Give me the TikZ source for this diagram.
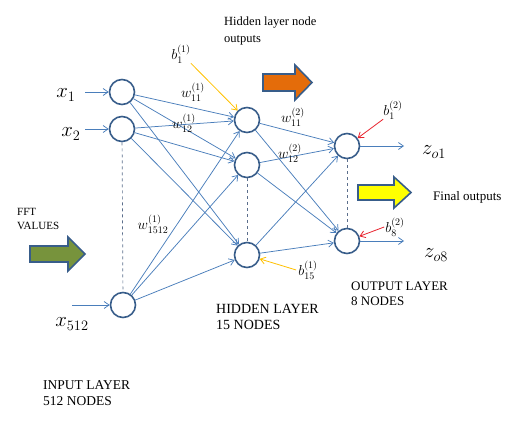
\documentclass[tikz,border=0pt]{standalone}
\usepackage{fontspec}
\setmainfont{Liberation Serif}
\usetikzlibrary{arrows.meta}

\definecolor{linkblue}{HTML}{4A7EBB}
\definecolor{ringblue}{HTML}{385D8A}
\definecolor{dashblue}{HTML}{5B6E8C}
\definecolor{biasyellow}{HTML}{FFC000}
\definecolor{biasred}{HTML}{E8232E}
\definecolor{blockorange}{HTML}{E46C0A}
\definecolor{blockyellow}{HTML}{FFFF00}
\definecolor{blockgreen}{HTML}{77933C}

\tikzset{
	>={Straight Barb[length=5pt,width=7pt]},
	neuron/.style={
		circle,
		draw=ringblue,
		line width=1.6pt,
		minimum size=25pt,
		inner sep=0pt
	},
	link/.style={
		->,
		color=linkblue,
		line width=0.75pt
	},
	skip/.style={
		color=dashblue,
		line width=0.7pt,
		dashed
	},
	bias/.style={
		->,
		line width=0.8pt
	},
	block/.style={
		draw=ringblue,
		line width=1.6pt,
		line join=miter
	},
	weightlabel/.style={
		font=\Large,
		inner sep=0pt
	},
	caption/.style={
		align=left,
		anchor=west,
		inner sep=0pt
	}
}

\begin{document}
\begin{tikzpicture}[x=1pt, y=-1pt]
	\useasboundingbox (0,0) rectangle (529,422);

	\node[neuron] (x1) at (122, 92) {};
	\node[neuron] (x2) at (122, 129) {};
	\node[neuron] (x512) at (123, 305) {};
	\node[neuron] (h1) at (247, 120) {};
	\node[neuron] (h2) at (247, 165) {};
	\node[neuron] (h15) at (247, 255) {};
	\node[neuron] (o1) at (347, 146) {};
	\node[neuron] (o8) at (347, 241) {};

	\node[font=\huge] (lx1) at (66, 95) {$x_{1}$};
	\node[font=\huge] (lx2) at (71, 134) {$x_{2}$};
	\node[font=\huge] (lx512) at (72, 324) {$x_{512}$};
	\node[font=\huge] (lz1) at (434, 152) {$z_{o1}$};
	\node[font=\huge] (lz8) at (436, 255) {$z_{o8}$};

	\coordinate (in1) at (85, 92);
	\coordinate (in2) at (85, 129);
	\coordinate (in512) at (72, 305);
	\coordinate (out1) at (404, 146);
	\coordinate (out8) at (404, 241);

	\draw[link] (in1) -- (x1);
	\draw[link] (in2) -- (x2);
	\draw[link] (in512) -- (x512);
	\draw[link] (o1) -- (out1);
	\draw[link] (o8) -- (out8);

	\draw[link] (x1) -- (h1);
	\draw[link] (x1) -- (h2);
	\draw[link] (x1) -- (h15);
	\draw[link] (x2) -- (h1);
	\draw[link] (x2) -- (h2);
	\draw[link] (x2) -- (h15);
	\draw[link] (x512) -- (h1);
	\draw[link] (x512) -- (h2);
	\draw[link] (x512) -- (h15);

	\draw[link] (h1) -- (o1);
	\draw[link] (h1) -- (o8);
	\draw[link] (h2) -- (o1);
	\draw[link] (h2) -- (o8);
	\draw[link] (h15) -- (o1);
	\draw[link] (h15) -- (o8);

	\draw[skip] (x2) -- (x512);
	\draw[skip] (h2) -- (h15);
	\draw[skip] (o1) -- (o8);

	\node[weightlabel] (w111) at (193, 92) {$w_{11}^{(1)}$};
	\node[weightlabel] (w121) at (184, 123) {$w_{12}^{(1)}$};
	\node[weightlabel] (w15121) at (153, 224) {$w_{1512}^{(1)}$};
	\node[weightlabel] (w112) at (293, 117) {$w_{11}^{(2)}$};
	\node[weightlabel] (w122) at (290, 153) {$w_{12}^{(2)}$};

	\node[weightlabel] (b11) at (181, 54) {$b_{1}^{(1)}$};
	\node[weightlabel] (b151) at (308, 270) {$b_{15}^{(1)}$};
	\node[weightlabel] (b12) at (393, 110) {$b_{1}^{(2)}$};
	\node[weightlabel] (b82) at (395, 227) {$b_{8}^{(2)}$};

	\draw[
		bias,
		color=biasyellow
	] (b11.south east) -- (h1);
	\draw[
		bias,
		color=biasyellow
	] ([xshift=-2pt]b151.west) -- (h15);
	\draw[
		bias,
		color=biasred
	] (b12.south west) -- (o1);
	\draw[
		bias,
		color=biasred
	] ([xshift=-1pt]b82.west) -- (o8);

	\draw[
		block,
		fill=blockorange
	] (263,74) -- (295,74) -- (295,65) -- (312,82.5) -- (295,100) -- (295,91) -- (263,91) -- cycle;
	\draw[
		block,
		fill=blockyellow
	] (358,185) -- (394,185) -- (394,177) -- (411,192.5) -- (394,208) -- (394,200) -- (358,200) -- cycle;
	\draw[
		block,
		fill=blockgreen
	] (30,246) -- (68,246) -- (68,237) -- (85,254) -- (68,271) -- (68,262) -- (30,262) -- cycle;

	\node[caption, font=\fontsize{12.5}{16.5}\selectfont] (hiddenout) at (224, 31) {Hidden layer node\\outputs};
	\node[caption, font=\fontsize{13}{16}\selectfont] (finalout) at (433, 197) {Final outputs};
	\node[caption, font=\fontsize{11}{14}\selectfont] (fft) at (17, 219) {FFT\\VALUES};
	\node[caption, font=\fontsize{14}{16.5}\selectfont] (hiddenlayer) at (216, 317) {HIDDEN LAYER\\15 NODES};
	\node[caption, font=\fontsize{13}{15.5}\selectfont] (outputlayer) at (351, 294) {OUTPUT LAYER\\8 NODES};
	\node[caption, font=\fontsize{13.5}{16}\selectfont] (inputlayer) at (43, 393) {INPUT LAYER\\512 NODES};
\end{tikzpicture}
\end{document}
